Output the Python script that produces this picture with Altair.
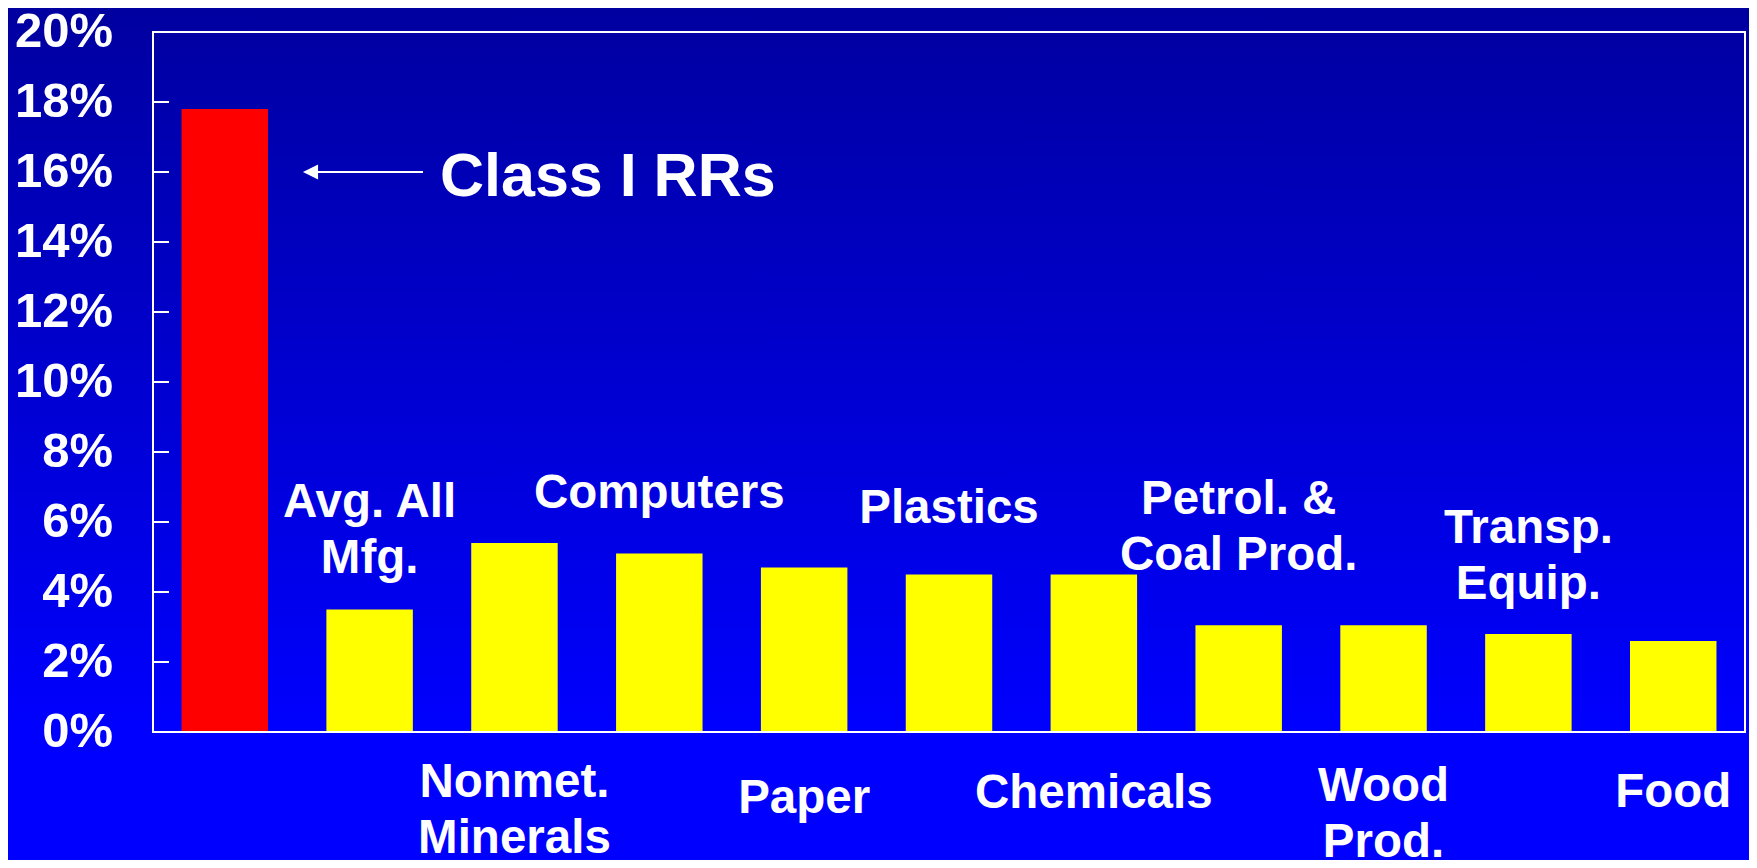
import altair as alt
import pandas as pd

# ---- data ----
categories = ["Class I RRs", "Avg. All Mfg.", "Nonmet. Minerals", "Computers", "Paper",
              "Plastics", "Chemicals", "Petrol. & Coal Prod.", "Wood Prod.",
              "Transp. Equip.", "Food"]
values = [17.8, 3.5, 5.4, 5.1, 4.7, 4.5, 4.5, 3.05, 3.05, 2.8, 2.6]
label_lines = ["", "Avg. All\nMfg.", "Nonmet.\nMinerals", "Computers", "Paper", "Plastics",
               "Chemicals", "Petrol. &\nCoal Prod.", "Wood\nProd.", "Transp.\nEquip.", "Food"]
# first-line baseline of each category label, in axis units (%)
label_level = [0, 6.14, -1.86, 6.4, -2.31, 5.97, -2.17, 6.23, -1.97, 5.4, -2.14]
axis_values = [0, 2, 4, 6, 8, 10, 12, 14, 16, 18, 20]
axis_labels = ["0%", "2%", "4%", "6%", "8%", "10%", "12%", "14%", "16%", "18%", "20%"]
inner_ticks = [2, 4, 6, 8, 10, 12, 14, 16, 18]
annotation_text = ["Class I RRs"]
annotation_level = [16.0]

# ---- layout ----
W, H = 1592, 700
PAD = {"left": 145, "top": 24, "right": 4, "bottom": 128}
FONT = "Liberation Sans"

df = pd.DataFrame({"cat": categories, "value": values,
                   "label": label_lines, "ly": label_level})
axis_df = pd.DataFrame({"v": axis_values, "lab": axis_labels})
tick_df = pd.DataFrame({"t": inner_ticks})
ann_df = pd.DataFrame({"txt": annotation_text, "lvl": annotation_level})
one = pd.DataFrame({"a": [0]})

yscale = alt.Scale(domain=[0, 20], nice=False)
xscale = alt.Scale(paddingInner=0.403, paddingOuter=0.197)
X = alt.X("cat:N", sort=categories, scale=xscale, axis=None)

gradient = alt.LinearGradient(
    gradient="linear", x1=0, y1=0, x2=0, y2=1,
    stops=[alt.GradientStop(color="#0000A0", offset=0),
           alt.GradientStop(color="#0000FF", offset=0.85),
           alt.GradientStop(color="#0000FF", offset=1)])

bg = alt.Chart(one).mark_rect(fill=gradient).encode(
    x=alt.value(-PAD["left"]), x2=alt.value(W + PAD["right"]),
    y=alt.value(-PAD["top"]), y2=alt.value(H + PAD["bottom"]))

bars = alt.Chart(df).mark_bar().encode(
    x=X,
    y=alt.Y("value:Q", scale=yscale, axis=None),
    color=alt.condition(alt.datum.cat == categories[0],
                        alt.value("#FF0000"), alt.value("#FFFF00")))

ylabels = alt.Chart(axis_df).mark_text(
    font=FONT, fontWeight="bold", fontSize=49, color="white",
    align="right", baseline="middle").encode(
    x=alt.value(-40), y=alt.Y("v:Q", scale=yscale, axis=None), text="lab:N")

ticks = alt.Chart(tick_df).mark_rule(color="white", strokeWidth=2).encode(
    y=alt.Y("t:Q", scale=yscale, axis=None), x=alt.value(0), x2=alt.value(16))

labels = alt.Chart(df).mark_text(
    font=FONT, fontWeight="bold", fontSize=47.5, color="white",
    align="center", baseline="alphabetic", lineBreak="\n", lineHeight=56).encode(
    x=X, y=alt.Y("ly:Q", scale=yscale, axis=None), text="label:N")

arrow = alt.Chart(ann_df).mark_rule(color="white", strokeWidth=2).encode(
    x=alt.value(152), x2=alt.value(270), y=alt.Y("lvl:Q", scale=yscale, axis=None))

head = alt.Chart(ann_df).mark_point(
    shape="M-1,0L1,-1L1,1Z", filled=True, size=230, color="white",
    opacity=1, strokeWidth=0).encode(
    x=alt.value(157.5), y=alt.Y("lvl:Q", scale=yscale, axis=None))

ann_text = alt.Chart(ann_df).mark_text(
    font=FONT, fontWeight="bold", fontSize=61, color="white",
    align="left", baseline="alphabetic", dy=24).encode(
    x=alt.value(287), y=alt.Y("lvl:Q", scale=yscale, axis=None), text="txt:N")

frame = alt.Chart(one).mark_rect(fill="transparent", stroke="white", strokeWidth=2).encode(
    x=alt.value(0), x2=alt.value(W), y=alt.value(0), y2=alt.value(H))

chart = alt.layer(bg, bars, ylabels, ticks, labels, arrow, head, ann_text, frame).properties(
    width=W, height=H,
    autosize=alt.AutoSizeParams(type="none"),
    padding=PAD,
    background="#0000A0",
).configure_view(stroke="transparent")

chart.save("out.html", embed_options={"renderer": "svg", "actions": False})
